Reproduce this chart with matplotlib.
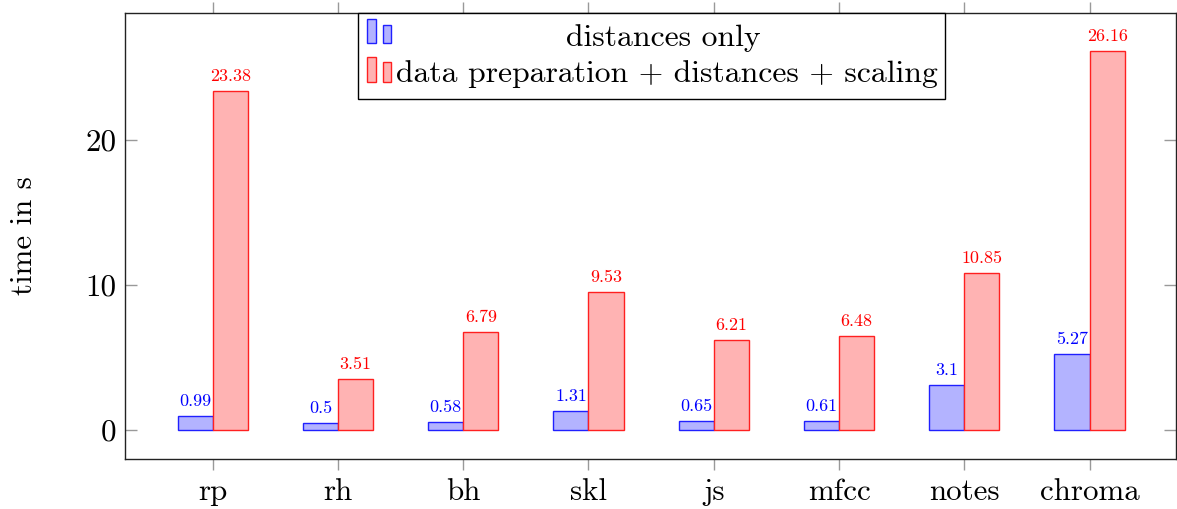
import matplotlib
matplotlib.use("Agg")
import matplotlib.pyplot as plt
from matplotlib.patches import Rectangle
import numpy as np

plt.rcParams['font.family'] = ['cmr10', 'DejaVu Serif']
plt.rcParams['mathtext.fontset'] = 'cm'
plt.rcParams['axes.formatter.use_mathtext'] = True

categories = ["rp", "rh", "bh", "skl", "js", "mfcc", "notes", "chroma"]
distances_only = [0.99, 0.5, 0.58, 1.31, 0.65, 0.61, 3.1, 5.27]
full_pipeline = [23.38, 3.51, 6.79, 9.53, 6.21, 6.48, 10.85, 26.16]
value_labels_blue = ["0.99", "0.5", "0.58", "1.31", "0.65", "0.61", "3.1", "5.27"]
value_labels_red = ["23.38", "3.51", "6.79", "9.53", "6.21", "6.48", "10.85", "26.16"]
legend_labels = ["distances only", "data preparation + distances + scaling"]
yticks = [0, 10, 20]

blue_fill = "#b3b3ff"
blue_edge = "#2020ff"
red_fill = "#ffb3b3"
red_edge = "#ff2020"

fig = plt.figure(figsize=(11.77, 5.09), dpi=100)
ax = fig.add_axes([125/1177, 1 - 459/509, 1051/1177, 446/509])

x = np.arange(len(categories))
w = 0.28
ax.bar(x - w/2, distances_only, w, color=blue_fill, edgecolor=blue_edge, linewidth=1.0, zorder=2)
ax.bar(x + w/2, full_pipeline, w, color=red_fill, edgecolor=red_edge, linewidth=1.0, zorder=2)

for xi, v, s in zip(x, distances_only, value_labels_blue):
    ax.annotate(s, (xi - w/2, v), xytext=(0, 5), textcoords="offset points",
                ha="center", va="bottom", color="#0000ff", fontsize=13)
for xi, v, s in zip(x, full_pipeline, value_labels_red):
    ax.annotate(s, (xi + w/2, v), xytext=(0, 5), textcoords="offset points",
                ha="center", va="bottom", color="#ff0000", fontsize=13)

ax.set_xlim(-0.7, 7.69)
ax.set_ylim(-2.0, 28.76)
ax.set_xticks(x)
ax.set_xticklabels(categories, fontsize=22.3)
ax.set_yticks(yticks)
ax.set_yticklabels([str(t) for t in yticks], fontsize=22.3)

ax.tick_params(axis='x', which='both', direction='out', length=8, width=1.0,
               color='#999999', top=True, bottom=True, pad=5.5)
ax.tick_params(axis='y', which='both', direction='in', length=8.6, width=1.0,
               color='#999999', left=True, right=True, pad=6)
for sp in ax.spines.values():
    sp.set_linewidth(1.0)
    sp.set_color('#222222')

ax.set_ylabel("time in s", fontsize=22.3)
ax.yaxis.set_label_coords(-0.083, 0.5)

# legend drawn in axes coordinates (pgfplots style)
def axx(px):
    return (px - 125) / 1051
def axy(py):
    return (459 - py) / 446

T = ax.transAxes
box = Rectangle((axx(358), axy(99)), axx(945) - axx(358), axy(13) - axy(99),
                transform=T, facecolor='white', edgecolor='black', linewidth=1.0,
                zorder=5, clip_on=False)
ax.add_patch(box)

def icon(x0, x1, ytop, ybot, fc, ec):
    ax.add_patch(Rectangle((axx(x0), axy(ybot)), axx(x1) - axx(x0), axy(ytop) - axy(ybot),
                           transform=T, facecolor=fc, edgecolor=ec, linewidth=1.0,
                           zorder=6, clip_on=False))

icon(367, 375.5, 18.5, 43.3, blue_fill, blue_edge)
icon(382.5, 391, 24.5, 43.3, blue_fill, blue_edge)
icon(367, 375.5, 56.5, 81.7, red_fill, red_edge)
icon(382.5, 391, 62, 81.7, red_fill, red_edge)

ax.text(axx(663), axy(45.5), legend_labels[0], transform=T, ha='center', va='baseline',
        fontsize=22.8, zorder=7)
ax.text(axx(396.5), axy(82), legend_labels[1], transform=T, ha='left', va='baseline',
        fontsize=22.8, zorder=7)

fig.savefig("out.png", dpi=100)
